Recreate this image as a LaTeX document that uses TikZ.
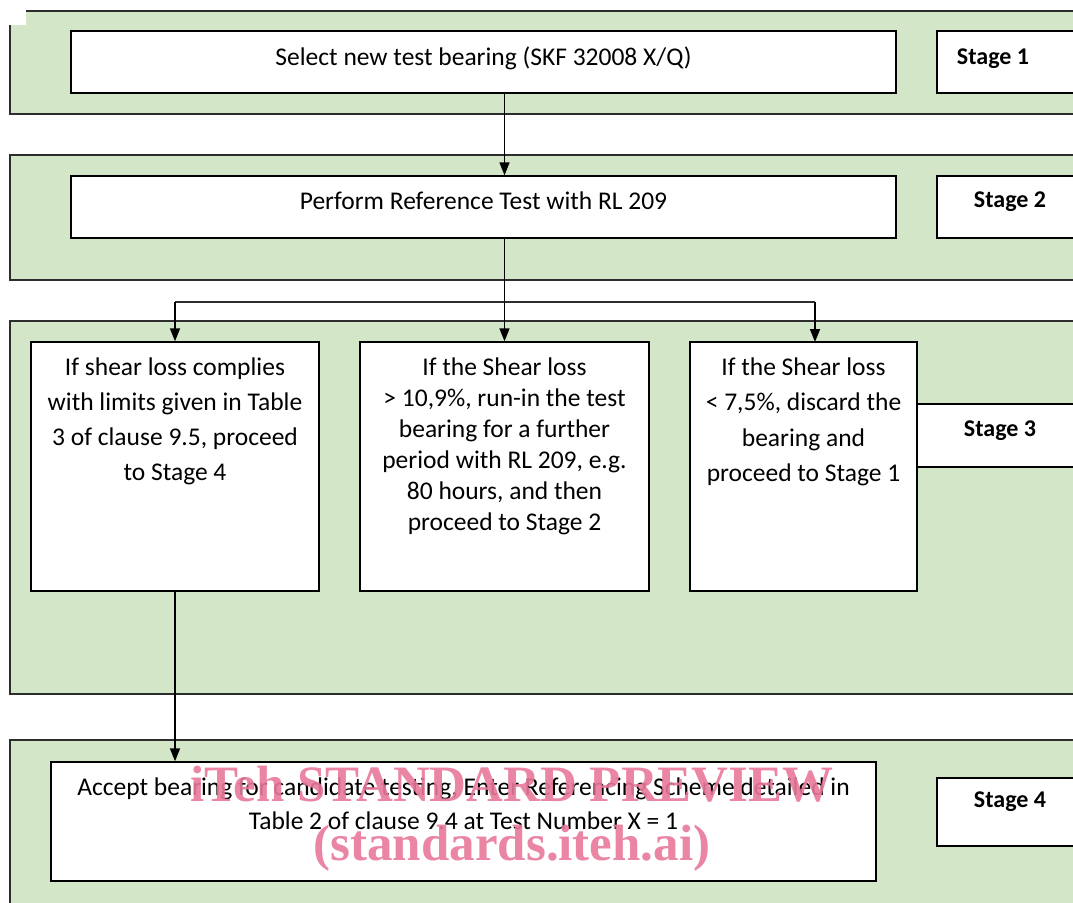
\documentclass[tikz,border=0pt]{standalone}
\usepackage{fontspec}
\setmainfont{Carlito}
\newfontfamily\markfont{Liberation Serif}
\usetikzlibrary{positioning,arrows.meta}
\definecolor{bandgreen}{RGB}{211,230,199}
\definecolor{markpink}{RGB}{233,120,155}
\definecolor{edgegray}{RGB}{45,45,45}

\begin{document}
\begin{tikzpicture}
  [x=1pt,y=-1pt,
   band/.style={draw=edgegray, fill=bandgreen, line width=1.5pt, minimum width=1080pt, inner sep=0pt},
   box/.style={draw, fill=white, line width=1.4pt, inner sep=0pt},
   txt/.style={anchor=north, inner sep=0pt, align=center, font=\fontsize{25.5}{34}\selectfont},
   stagetxt/.style={anchor=mid, inner sep=0pt, font=\bfseries\fontsize{24}{26}\selectfont},
   flow/.style={line width=1.6pt, -{Triangle[length=13pt,width=10pt]}},
   wmark/.style={inner sep=0pt, anchor=base, text=markpink, opacity=0.9, font=\markfont\bfseries\fontsize{51}{51}\selectfont}]
  \useasboundingbox (0,0) rectangle (1073,902);
  \clip (0,0) rectangle (1073,902);

  % stage bands
  \node[band, minimum height=103pt] (band1) at (550,62.5) {};
  \node[band, minimum height=125pt] (band2) at (550,217.5) {};
  \node[band, minimum height=373pt] (band3) at (550,507.5) {};
  \node[band, minimum height=180pt] (band4) at (550,830) {};
  \fill[white] (0,0) rectangle (26,25);

  % process boxes
  \node[box, minimum width=825pt, minimum height=62pt] (sel) at (483.5,62) {};
  \node[box, minimum width=825pt, minimum height=62pt] (ref) at (483.5,207) {};
  \node[box, minimum width=288pt, minimum height=249pt] (comply) at (175,466.5) {};
  \node[box, minimum width=289pt, minimum height=249pt] (runin) at (504.5,466.5) {};
  \node[box, minimum width=227pt, minimum height=249pt] (discard) at (803.5,466.5) {};
  \node[box, minimum width=825pt, minimum height=119pt] (accept) at (463.5,821.5) {};

  % stage labels
  \node[box, minimum width=153pt, minimum height=62pt] (st1) at (1013.5,62) {};
  \node[box, minimum width=153pt, minimum height=62pt] (st2) at (1013.5,207) {};
  \node[box, minimum width=173pt, minimum height=63pt] (st3) at (1003.5,435.5) {};
  \node[box, minimum width=153pt, minimum height=68pt] (st4) at (1013.5,812) {};
  \node[stagetxt] (st1t) at (993,62) {Stage 1};
  \node[stagetxt] (st2t) at (1010,205) {Stage 2};
  \node[stagetxt] (st3t) at (1000,434) {Stage 3};
  \node[stagetxt] (st4t) at (1010,805) {Stage 4};

  % box texts
  \node[txt, yshift=-16pt] (selt) at (sel.north) {Select new test bearing (SKF 32008 X/Q)};
  \node[txt, yshift=-16pt] (reft) at (ref.north) {Perform Reference Test with RL 209};
  \node[txt, yshift=-16pt, font=\fontsize{25.5}{35}\selectfont] (complyt) at (comply.north) {If shear loss complies\\with limits given in Table\\3 of clause 9.5, proceed\\to Stage 4};
  \node[txt, yshift=-16pt, font=\fontsize{25.5}{31}\selectfont] (runint) at (runin.north) {If the Shear loss\\> 10,9\%, run-in the test\\bearing for a further\\period with RL 209, e.g.\\80 hours, and then\\proceed to Stage 2};
  \node[txt, yshift=-16pt, font=\fontsize{25.5}{35.5}\selectfont] (discardt) at (discard.north) {If the Shear loss\\< 7,5\%, discard the\\bearing and\\proceed to Stage 1};
  \node[txt, yshift=-16pt] (acceptt) at (accept.north) {Accept bearing for candidate testing, Enter Referencing Scheme detailed in\\Table 2 of clause 9.4 at Test Number X = 1};

  % connectors
  \coordinate (split) at (504.5,302);
  \coordinate (dtop) at (815,342);
  \draw[flow] (sel.south -| runin.north) -- (ref.north -| runin.north);
  \draw[line width=1.6pt] (ref.south -| runin.north) -- (split);
  \draw[line width=1.8pt, edgegray] (split -| comply.north) -- (split -| dtop);
  \foreach \to in {comply.north, runin.north, dtop}
    \draw[flow] (split -| \to) -- (\to);
  \draw[flow] (comply.south) -- (comply.south |- accept.north);

  % watermark
  \node[wmark] (wm1) at (512,801) {iTeh STANDARD PREVIEW};
  \node[wmark] (wm2) at (512,860) {(standards.iteh.ai)};
\end{tikzpicture}
\end{document}
